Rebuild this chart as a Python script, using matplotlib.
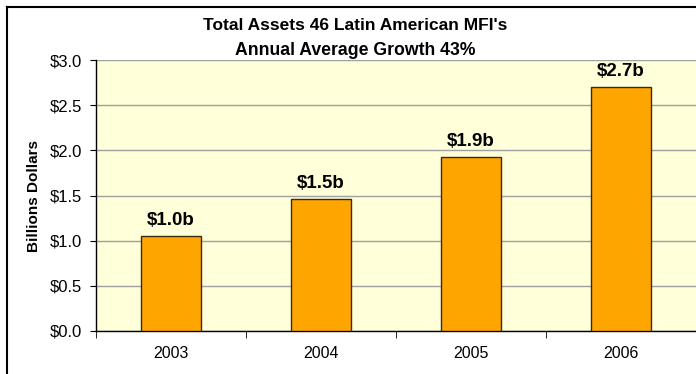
import matplotlib
matplotlib.use('Agg')
import matplotlib.pyplot as plt
from matplotlib.lines import Line2D

plt.rcParams['font.family'] = ['Liberation Sans', 'DejaVu Sans']

years = ['2003', '2004', '2005', '2006']
assets = [1.05, 1.46, 1.93, 2.70]
bar_labels = ['$1.0b', '$1.5b', '$1.9b', '$2.7b']
yticks = [0.0, 0.5, 1.0, 1.5, 2.0, 2.5, 3.0]
title_lines = ["Total Assets 46 Latin American MFI's", "Annual Average Growth 43%"]

fig = plt.figure(figsize=(6.96, 3.74), dpi=100)
ax = fig.add_axes([96 / 696, 43 / 374, 600 / 696, 271 / 374])
ax.set_facecolor('#FFFFD9')

x = range(len(years))
bars = ax.bar(x, assets, width=0.4, color='#FFA500', edgecolor='#3A2A10', linewidth=1, zorder=3)
for b, lab in zip(bars, bar_labels):
    ax.annotate(lab, (b.get_x() + b.get_width() / 2, b.get_height()),
                xytext=(0, 5), textcoords='offset points',
                ha='center', va='bottom', fontsize=13.5, fontweight='bold')

ax.set_xlim(-0.5, 3.5)
ax.set_ylim(0, 3.0)
ax.set_yticks(yticks)
ax.set_yticklabels([f'${v:.1f}' for v in yticks])
ax.set_xticks(list(x))
ax.set_xticklabels(years)
ax.set_xticks([i + 0.5 for i in range(-1, len(years))], minor=True)
ax.tick_params(axis='x', which='major', length=0, pad=11, labelsize=11.5)
ax.tick_params(axis='x', which='minor', length=5, direction='out')
ax.tick_params(axis='y', length=4, labelsize=12, pad=6)
ax.yaxis.grid(True, color='#A0A0A0', linewidth=1, zorder=0)
ax.set_axisbelow(True)
for s in ['top', 'right']:
    ax.spines[s].set_visible(False)
ax.spines['left'].set_linewidth(1)
ax.spines['bottom'].set_linewidth(1)

ax.set_ylabel('Billions Dollars', fontsize=11, fontweight='bold', labelpad=6)
fig.text(0.511, 1 - 30 / 374, title_lines[0], ha='center', va='baseline', fontsize=12.5, fontweight='bold')
fig.text(0.511, 1 - 55 / 374, title_lines[1], ha='center', va='baseline', fontsize=12.7, fontweight='bold')

# outer chart border (right and bottom fall outside the picture)
fig.add_artist(Line2D([7 / 696, 7 / 696], [0, 1 - 7 / 374], transform=fig.transFigure, color='black', lw=1.5))
fig.add_artist(Line2D([7 / 696, 1], [1 - 7 / 374, 1 - 7 / 374], transform=fig.transFigure, color='black', lw=1.5))

fig.savefig('out.png', dpi=100)
